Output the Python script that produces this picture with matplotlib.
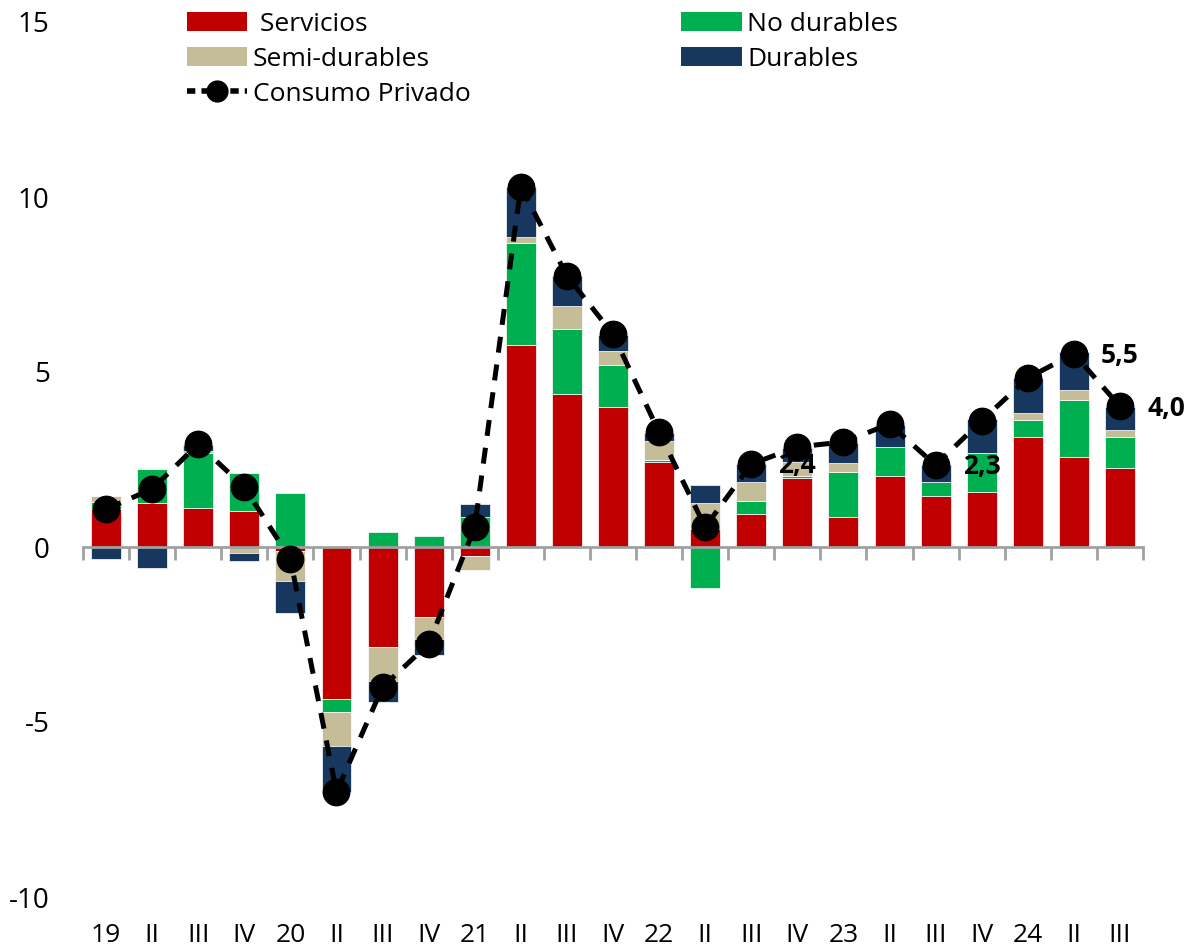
import matplotlib
matplotlib.use("Agg")
import matplotlib.pyplot as plt
import numpy as np
from matplotlib.lines import Line2D
from matplotlib.patches import Patch

plt.rcParams['font.family'] = ['Open Sans', 'DejaVu Sans']

trimestres = ["19", "II", "III", "IV", "20", "II", "III", "IV", "21", "II", "III", "IV",
              "22", "II", "III", "IV", "23", "II", "III", "IV", "24", "II", "III"]

servicios = [1.10, 1.27, 1.12, 1.04, -0.10, -4.34, -2.86, -1.99, -0.25, 5.78, 4.37, 4.01,
             2.42, 0.51, 0.94, 1.97, 0.87, 2.04, 1.47, 1.56, 3.15, 2.58, 2.27]
no_durables = [0.20, 0.96, 1.57, 1.07, 1.55, -0.38, 0.43, 0.31, 0.87, 2.91, 1.86, 1.20,
               0.08, -1.16, 0.37, 0.06, 1.26, 0.81, 0.40, 1.12, 0.49, 1.62, 0.86]
semi_durables = [0.15, 0.03, 0.06, -0.17, -0.87, -0.97, -0.96, -0.64, -0.41, 0.17, 0.65, 0.40,
                 0.52, 0.75, 0.54, 0.40, 0.27, 0.0, 0.0, 0.0, 0.19, 0.29, 0.22]
durables = [-0.35, -0.60, 0.17, -0.23, -0.92, -1.31, -0.60, -0.46, 0.36, 1.42, 0.85, 0.46,
            0.24, 0.51, 0.52, 0.40, 0.57, 0.64, 0.47, 0.98, 0.99, 1.07, 0.66]
consumo = [1.08, 1.66, 2.94, 1.71, -0.34, -7.00, -4.00, -2.77, 0.57, 10.30, 7.75, 6.08,
           3.28, 0.57, 2.37, 2.86, 3.00, 3.51, 2.34, 3.61, 4.83, 5.52, 4.02]

# puntos de la linea que llevan etiqueta
etiquetados = [14, 18, 21, 22]

series = [
    ("Servicios", servicios, "#C00000"),
    ("No durables", no_durables, "#00B050"),
    ("Semi-durables", semi_durables, "#C4BD97"),
    ("Durables", durables, "#17375E"),
]

fig = plt.figure(figsize=(11.88, 9.49), dpi=100)
ax = fig.add_axes([83 / 1188, 1 - 897 / 949, 1060 / 1188, 875 / 949])

x = np.arange(len(trimestres))
pos_base = np.zeros(len(x))
neg_base = np.zeros(len(x))
for nombre, vals, color in series:
    v = np.array(vals)
    base = np.where(v >= 0, pos_base, neg_base)
    ax.bar(x, v, bottom=base, width=0.65, color=color, edgecolor="white",
           linewidth=0.5, zorder=2)
    pos_base += np.where(v >= 0, v, 0)
    neg_base += np.where(v < 0, v, 0)

ax.plot(x, consumo, color="black", lw=3.6, ls=(0, (3.2, 2.4)), marker="o",
        markersize=19, zorder=4)

for i in etiquetados:
    txt = f"{consumo[i]:.1f}".replace(".", ",")
    ax.text(x[i] + 1, consumo[i] - 0.05, txt, ha="center", va="center",
            fontsize=19, fontweight="bold", color="black", zorder=5, clip_on=False)

ax.set_xlim(-0.5, len(x) - 0.5)
ax.set_ylim(-10, 15)
ax.set_yticks([-10, -5, 0, 5, 10, 15])
ax.set_yticklabels(["-10", "-5", "0", "5", "10", "15"])
ax.tick_params(axis="y", length=0, pad=24, labelsize=20)

for lado in ["left", "right", "top"]:
    ax.spines[lado].set_visible(False)
ax.spines["bottom"].set_position(("data", 0))
ax.spines["bottom"].set_color("#A0A0A0")
ax.spines["bottom"].set_linewidth(2)
ax.set_xticks([])
ax.set_xticks(np.arange(-0.5, len(x)), minor=True)
ax.tick_params(axis="x", which="minor", length=9, width=2, color="#A0A0A0",
               direction="out", labelbottom=False)

sec = ax.secondary_xaxis("bottom")
sec.set_xticks(x)
sec.set_xticklabels(trimestres)
sec.tick_params(length=0, pad=19, labelsize=19)
sec.spines["bottom"].set_visible(False)

handles = [
    Patch(facecolor="#C00000", label=" Servicios"),
    Patch(facecolor="#C4BD97", label="Semi-durables"),
    Line2D([0], [0], color="black", lw=4, ls=(0, (1.5, 1.1)), marker="o",
           markersize=15, label="Consumo Privado"),
    Patch(facecolor="#00B050", label="No durables"),
    Patch(facecolor="#17375E", label="Durables"),
]
fig.legend(handles=handles, loc="upper left", bbox_to_anchor=(184 / 1188, 1 - 9 / 949),
           ncol=2, frameon=False, fontsize=19, handlelength=2.3, handleheight=0.7,
           handletextpad=0.2, labelspacing=0.38, columnspacing=8.0, borderpad=0.1,
           borderaxespad=0)

fig.savefig("out.png", dpi=100)
